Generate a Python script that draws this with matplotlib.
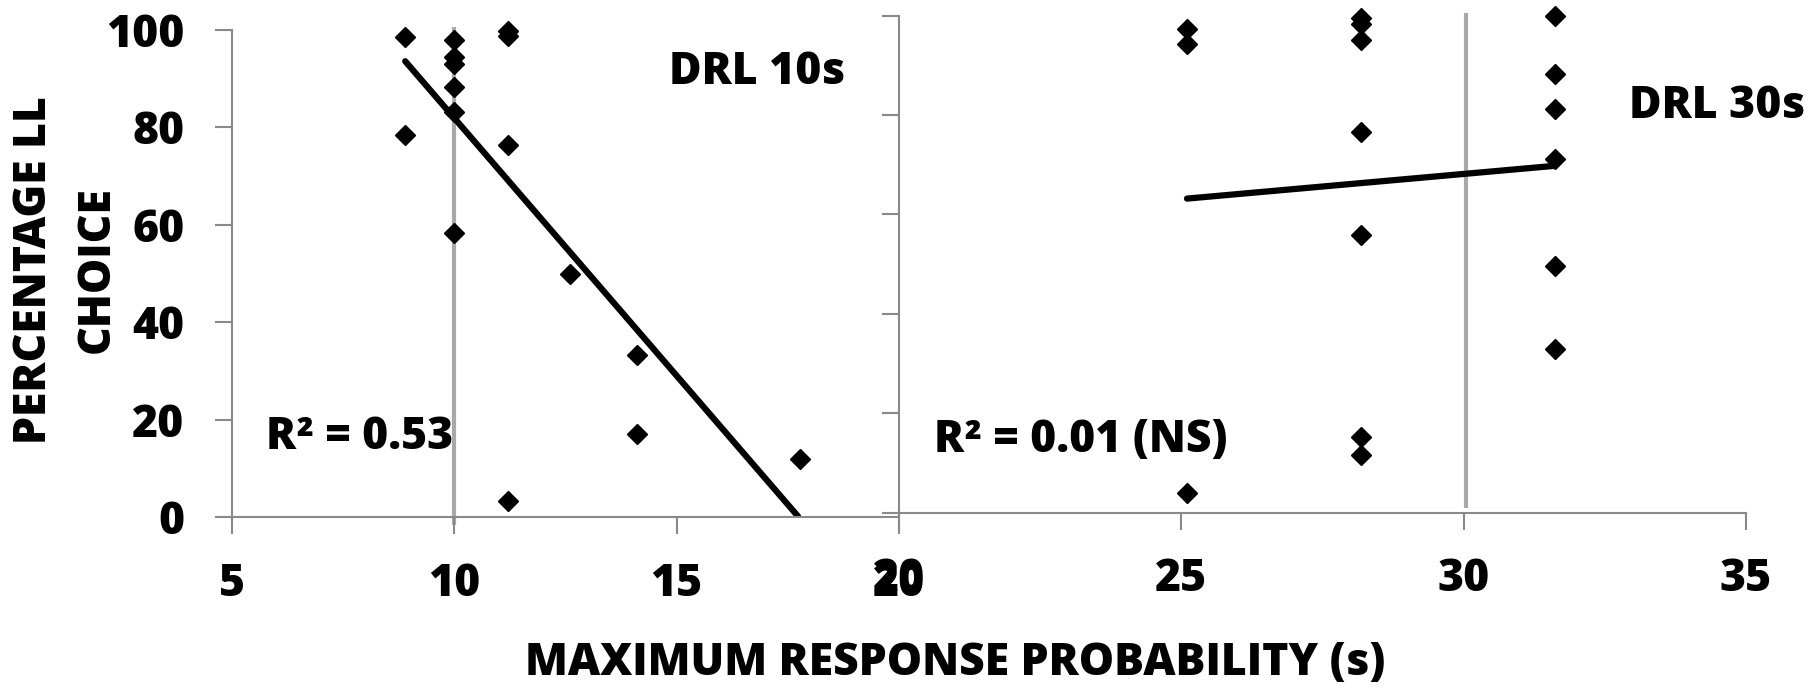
import numpy as np
import matplotlib.pyplot as plt

plt.rcParams['font.family'] = ['Open Sans', 'DejaVu Sans']
plt.rcParams['font.weight'] = 800

# DRL 10s panel
drl10_x = [8.9, 8.9, 10.0, 10.0, 10.0, 10.0, 10.0, 10.0,
           11.22, 11.22, 11.22, 11.22, 12.6, 14.12, 14.12, 17.78]
drl10_y = [98.5, 78.4, 98.0, 94.4, 93.1, 88.3, 83.1, 58.3,
           99.8, 98.7, 76.5, 3.3, 50.0, 33.3, 17.0, 11.9]
fit10_x = [8.9, 17.73]
fit10_y = [93.6, 0.2]
ref10_x = 10.0

# DRL 30s panel
drl30_x = [25.1, 25.1, 25.1, 28.18, 28.18, 28.18, 28.18, 28.18, 28.18, 28.18,
           31.62, 31.62, 31.62, 31.62, 31.62, 31.62]
drl30_y = [97.3, 94.4, 4.0, 99.6, 98.4, 95.1, 76.7, 55.9, 15.2, 11.7,
           99.9, 88.2, 81.2, 71.2, 49.7, 32.9]
fit30_x = [25.1, 31.62]
fit30_y = [63.2, 69.8]
ref30_x = 30.05

left_xticks = [5, 10, 15, 20]
right_xticks = [20, 25, 30, 35]
yticks = [0, 20, 40, 60, 80, 100]

W, H = 1820, 689
fig = plt.figure(figsize=(W / 100, H / 100), dpi=100)

axis_col = '#898989'
ref_col = '#a9a9a9'


def style(ax):
    for s in ['top', 'right']:
        ax.spines[s].set_visible(False)
    for s in ['left', 'bottom']:
        ax.spines[s].set_color(axis_col)
        ax.spines[s].set_linewidth(1.5)
    ax.tick_params(direction='out', length=12, width=1.5, color=axis_col,
                   labelsize=32)
    ax.tick_params(axis='x', pad=20)
    ax.tick_params(axis='y', pad=22)


# left axes: x 231.7..899 px, y 30..517.3 px
ax1 = fig.add_axes([231.7 / W, 1 - 517.3 / H, (899 - 231.7) / W, (517.3 - 30) / H])
ax1.set_xlim(5, 20)
ax1.set_ylim(0, 100)
ax1.set_xticks(left_xticks)
ax1.set_yticks(yticks)
style(ax1)
ax1.vlines(ref10_x, -1.6, 100.7, color=ref_col, lw=3, clip_on=False, zorder=1)
ax1.plot(fit10_x, fit10_y, color='black', lw=4.5, solid_capstyle='round', zorder=2)
ax1.plot(drl10_x, drl10_y, 'D', color='black', ms=10, zorder=3, clip_on=False)
ax1.text(16.81, 91.2, 'DRL 10s', fontsize=32, ha='center', va='center')
ax1.text(7.88, 16.3, 'R² = 0.53', fontsize=32, ha='center', va='center')

# right axes: x 899..1746 px, y 15.7..512.7 px
ax2 = fig.add_axes([899 / W, 1 - 512.7 / H, (1746 - 899) / W, (512.7 - 15.7) / H])
ax2.set_xlim(20, 35)
ax2.set_ylim(0, 100)
ax2.set_xticks(right_xticks)
ax2.set_yticks(yticks)
style(ax2)
ax2.set_yticklabels([])
ax2.patch.set_alpha(0)
ax2.vlines(ref30_x, 0.9, 100.6, color=ref_col, lw=3, clip_on=False, zorder=1)
ax2.plot(fit30_x, fit30_y, color='black', lw=4.5, solid_capstyle='round', zorder=2)
ax2.plot(drl30_x, drl30_y, 'D', color='black', ms=10, zorder=3, clip_on=False)
ax2.text(34.49, 81.8, 'DRL 30s', fontsize=32, ha='center', va='center')
ax2.text(23.22, 14.6, 'R² = 0.01 (NS)', fontsize=32, ha='center', va='center')

fig.text(35 / W, 1 - 270 / H, 'PERCENTAGE LL', rotation=90, fontsize=32,
         ha='center', va='center')
fig.text(97 / W, 1 - 270 / H, 'CHOICE', rotation=90, fontsize=32,
         ha='center', va='center')
fig.text(955 / W, 1 - 663 / H, 'MAXIMUM RESPONSE PROBABILITY (s)', fontsize=32,
         ha='center', va='center')

fig.savefig('out.png', dpi=100)
